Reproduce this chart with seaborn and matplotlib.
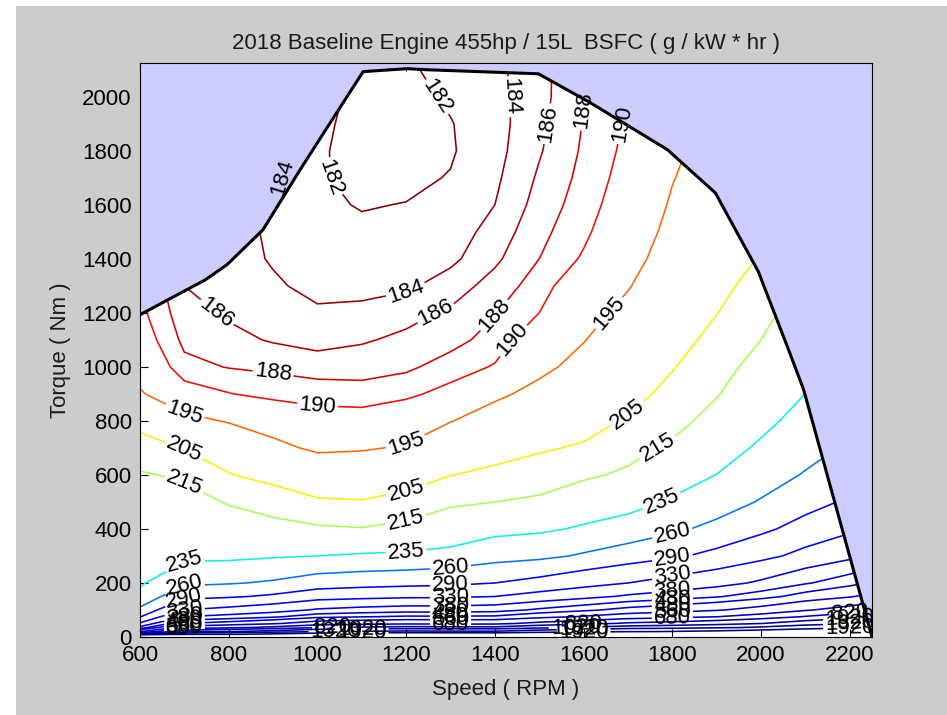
import numpy as np
import matplotlib
matplotlib.use("Agg")
import matplotlib.pyplot as plt
from matplotlib.patches import Rectangle
import seaborn as sns

# Engine map: BSFC (g/kWh) on a speed x torque grid
speed_grid = [600, 700, 800, 900, 1000, 1100, 1200, 1300, 1400, 1500,
              1600, 1700, 1800, 1900, 2000, 2100, 2200, 2300]
torque_grid = [0, 10, 20, 35, 50, 75, 100, 150, 200, 300, 400, 500, 600, 700,
               800, 900, 1000, 1100, 1200, 1300, 1400, 1500, 1600, 1700, 1800,
               1900, 2000, 2100, 2200]

# one row per speed, values along torque_grid
bsfc_table = [
    [9000, 895, 545, 395, 335, 288, 265, 242, 232, 225, 221, 218, 216, 209, 202, 195.5, 193, 191.5, 190.6, 190.4, 190.3, 190.3, 190.3, 190.3, 190.3, 190.3, 190.3, 190.3, 190.3],
    [9000, 1680, 930, 609, 480, 380, 330, 280, 255, 230, 224, 218.5, 213.5, 204.5, 196.5, 191.3, 188.6, 187.5, 186.8, 186, 185.5, 185.3, 185.2, 185.2, 185.2, 185.2, 185.2, 185.2, 185.2],
    [9000, 1850, 1012, 653, 510, 398, 342, 286, 258, 230.3, 220, 214.3, 205.5, 200, 194.6, 190.1, 187.9, 186.6, 185.7, 185.2, 184.9, 184.7, 184.6, 184.6, 184.6, 184.6, 184.6, 184.6, 184.6],
    [9000, 2068, 1118, 711, 548, 421, 358, 295, 263, 233, 218, 211, 201.5, 196.5, 192.5, 189.3, 187.6, 185.8, 185, 184.3, 183.8, 183.7, 184, 184.5, 185, 185, 185, 185, 185],
    [9000, 2432, 1295, 808, 614, 462, 386, 311, 273, 235, 216.5, 206, 199.5, 194, 191, 189.2, 187, 185.3, 184.3, 183.4, 182.9, 182.6, 182.3, 182.2, 182.3, 182.6, 183, 183.5, 184],
    [9000, 2557, 1357, 843, 637, 477, 397, 317, 277, 237, 215.5, 205.5, 199, 194.5, 191, 189, 187, 185.8, 184.4, 183.5, 182.8, 182.3, 181.9, 181.5, 181.2, 181.1, 181.2, 181.4, 182],
    [9000, 2655, 1405, 869, 655, 488, 405, 322, 280, 238, 218, 208, 200.5, 195.5, 192, 189.5, 187.6, 186.4, 185.4, 183.6, 182.9, 182.4, 182.05, 181.6, 181.3, 181.2, 181.3, 181.6, 182.5],
    [9000, 2610, 1385, 860, 650, 487, 405, 323, 283, 242, 221, 213.5, 204.8, 199.5, 194.8, 190.8, 188.9, 187.3, 186.3, 185, 183.5, 182.9, 182.4, 182.1, 181.8, 181.9, 182.3, 182.9, 183.5],
    [9000, 2570, 1370, 856, 650, 490, 410, 330, 290, 250, 229, 215, 207, 201.5, 197.5, 194, 190.2, 188.8, 187.9, 186.8, 185.6, 184.8, 184, 183.6, 183.3, 183.2, 183.3, 183.5, 184],
    [9000, 2928, 1545, 952, 715, 531, 439, 346, 300, 254, 231.5, 217, 209, 204, 200, 196.5, 193.8, 191.8, 190, 189, 188, 187.4, 186.8, 186.3, 185.8, 185.5, 185.3, 185.3, 185.5],
    [9000, 3220, 1690, 1035, 773, 569, 467, 365, 314, 263, 237.5, 223, 213, 206, 201.5, 198, 196.6, 194.8, 193.3, 192, 190.3, 189.5, 189, 188.6, 188.3, 188.1, 187.9, 187.8, 187.8],
    [9000, 3583, 1871, 1137, 844, 615, 501, 387, 330, 273, 245, 227, 217, 211, 206, 202, 199.5, 198, 196.3, 194.7, 193.3, 192.3, 191.5, 191, 190.6, 190.3, 190.1, 190, 190],
    [9000, 3736, 1951, 1186, 880, 642, 523, 404, 345, 285, 255, 237.4, 225.5, 217, 211, 207.5, 204.5, 202, 200, 198.5, 197.3, 196.3, 195.5, 194.8, 194.2, 193.8, 193.5, 193.4, 193.3],
    [9000, 3972, 2072, 1258, 932, 679, 552, 425, 362, 299, 267, 248, 235.3, 226.3, 219.5, 214.2, 210.5, 207.3, 204.8, 202.8, 201, 199.6, 198.5, 197.6, 196.8, 196.2, 195.8, 195.5, 195.3],
    [9000, 4368, 2273, 1375, 1016, 737, 597, 457, 388, 318, 283, 262, 248, 238, 230, 224.6, 219.5, 215, 211.2, 208, 205.5, 203.5, 202, 200.8, 199.8, 199, 198.3, 197.8, 197.3],
    [9000, 5051, 2616, 1572, 1155, 830, 668, 506, 424.5, 343, 303, 278, 262, 250.6, 241.9, 235.1, 229.7, 225.3, 221.6, 218.5, 215.8, 213.5, 211.4, 209.6, 208, 206.6, 205.4, 204.2, 203.1],
    [9000, 5685, 2935, 1756, 1285, 918, 735, 552, 460, 368, 322.5, 295, 276.7, 263.6, 253.8, 246.1, 240, 235, 230.8, 227.3, 224.3, 221.7, 219.4, 217.4, 215.6, 213.9, 212.5, 211.2, 210],
    [9000, 6690, 3440, 2047, 1490, 1057, 840, 623, 515, 407, 352.5, 320, 298, 283, 271, 262, 255, 249, 244, 240, 236.4, 233.3, 230.6, 228.2, 226.1, 224.2, 222.5, 221, 219.5],
]

bsfc_levels = [182, 184, 186, 188, 190, 195, 205, 215, 235, 260, 290, 330,
               380, 430, 480, 560, 680, 820, 1020, 1320, 1920]

# full-load torque curve
curve_speed = [600, 747, 796, 877, 961, 1029, 1103, 1202, 1247, 1498, 1615,
               1789, 1897, 1994, 2062, 2096, 2250]
curve_torque = [1193, 1322, 1378, 1507, 1730, 1904, 2093, 2104, 2100, 2085,
                1978, 1804, 1644, 1352, 1063, 915, 0]

# jet positions for each level (MATLAB look)
jet_pos = [1.0, 0.98, 0.955, 0.925, 0.895, 0.80, 0.66, 0.55, 0.36, 0.24,
           0.12, 0.105, 0.09, 0.08, 0.07, 0.06, 0.05, 0.04, 0.03, 0.015, 0.0]
level_colors = [plt.cm.jet(p) for p in jet_pos]

sns.set_theme(style="ticks")
plt.rcParams["font.family"] = ["Liberation Sans", "DejaVu Sans"]

fig = plt.figure(figsize=(9.47, 7.15), dpi=100, facecolor="white")
# grey MATLAB figure area, with a thin white strip on the left and top
fig.patches.append(Rectangle((16 / 947, 0), 1, 1 - 6 / 715, transform=fig.transFigure,
                             facecolor="#cccccc", edgecolor="none", zorder=-10))
ax = fig.add_axes([0.1478, 0.1091, 0.7730, 0.8028])
ax.set_facecolor("white")

X, Y = np.meshgrid(speed_grid, torque_grid)
Z = np.array(bsfc_table).T
cs = ax.contour(X, Y, Z, levels=bsfc_levels, colors=level_colors, linewidths=1.15)

ax.set_xlim(600, 2250)
ax.set_ylim(0, 2125)

# where to put the inline labels (rpm, Nm); None = snap by speed only
label_spots = {
    182: [(1010, 1700), (1320, 1990)],
    184: [(950, 1650), (1220, 1260), (1440, 1980)],
    186: [(745, 1210), (1270, 1150), (1520, 1880)],
    188: [(880, 960), (1420, 1180), (1610, 1930)],
    190: [(960, 855), (1410, 1100), (1680, 1860)],
    195: [(710, 830), (1240, 740), (1690, 1180)],
    205: [(730, 680), (1240, 550), (1750, 830)],
    215: [(720, 540), (1240, 440), (1770, 680)],
    235: [(710, 260), (1240, 310), (1780, 480)],
}
for lev in [260, 290, 330, 380, 430, 480, 560, 680]:
    label_spots[lev] = [(710, None), (1250, None), (1780, None)]
for lev in [820, 1020, 1320, 1920]:
    label_spots[lev] = [(1050, None), (1580, None), (2150, None)]


def snap(idx, tx, ty):
    best, best_d = None, np.inf
    for seg in cs.allsegs[idx]:
        if len(seg) == 0:
            continue
        if ty is None:
            d = np.abs(seg[:, 0] - tx) + 1e3 * (seg[:, 1] > 700)
        else:
            d = ((seg[:, 0] - tx) / 1650) ** 2 + ((seg[:, 1] - ty) / 2125) ** 2
        k = np.argmin(d)
        if d[k] < best_d:
            best_d, best = d[k], (seg[k, 0], seg[k, 1])
    return best


pts = []
for i, lev in enumerate(bsfc_levels):
    for tx, ty in label_spots[lev]:
        p = snap(i, tx, ty)
        if p is not None:
            pts.append(p)

ax.clabel(cs, manual=pts, inline=True, inline_spacing=2,
          fmt="%g", fontsize=16, colors="black")

# area above the torque curve
ax.fill_between(curve_speed, curve_torque, 2125, color="#ccccff", zorder=2.5, lw=0)
sns.lineplot(x=curve_speed, y=curve_torque, color="black", linewidth=2.2,
             estimator=None, sort=False, ax=ax, zorder=2.6)

ax.set_xticks(range(600, 2201, 200))
ax.set_yticks(range(0, 2001, 200))
ax.tick_params(direction="in", top=True, right=True, length=6, width=0.8,
               labelsize=16, pad=6, colors="black")
for sp in ax.spines.values():
    sp.set_color("black")
    sp.set_linewidth(0.8)

ax.set_title("2018 Baseline Engine 455hp / 15L  BSFC ( g / kW * hr )",
             fontsize=16, pad=10, color="#1a1a1a")
ax.set_xlabel("Speed ( RPM )", fontsize=16, labelpad=9, color="#1a1a1a")
ax.set_ylabel("Torque ( Nm )", fontsize=16, labelpad=8, color="#1a1a1a")

fig.savefig("out.png", dpi=100, facecolor=fig.get_facecolor())
